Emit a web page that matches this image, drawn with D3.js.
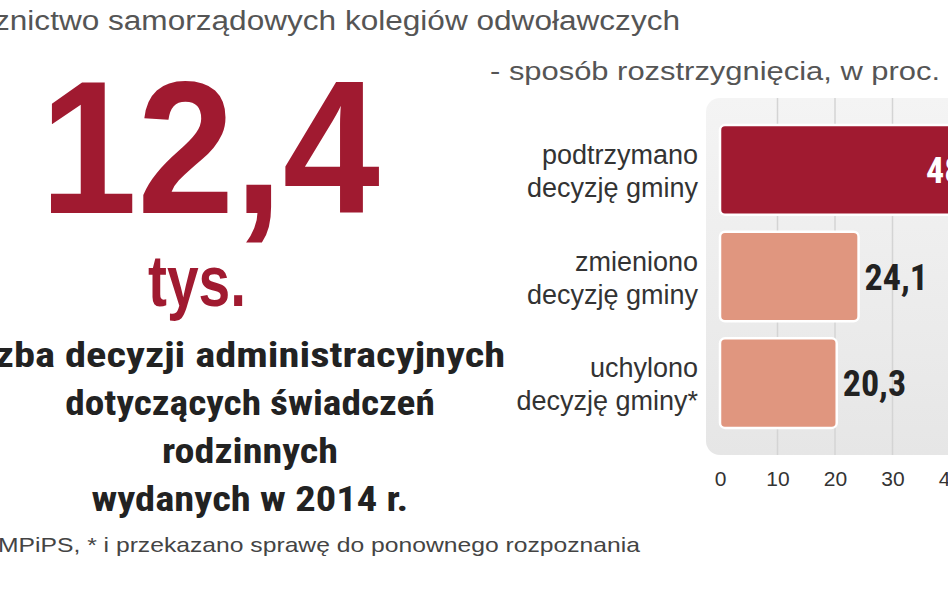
<!DOCTYPE html>
<html><head><meta charset="utf-8">
<script src="https://cdn.jsdelivr.net/npm/d3@7"></script>
<style>body{margin:0;background:#fff}svg{display:block}</style>
</head><body>
<svg id="svg" width="948" height="593"></svg>
<script>
const categories = [["podtrzymano", "decyzję gminy"], ["zmieniono", "decyzję gminy"], ["uchylono", "decyzję gminy*"]];
const values = [48.6, 24.1, 20.3];
const ticks = [0, 10, 20, 30, 40];
const descLines = ["zba decyzji administracyjnych", "dotyczących świadczeń", "rodzinnych", "wydanych w 2014 r."];

const svg = d3.select("#svg");
const red = "#a01a30", salmon = "#e0967f";
const font = "'Liberation Sans', Arial, sans-serif";
const cond = "'Roboto Condensed', 'Liberation Sans Narrow', sans-serif";

svg.append("text").attr("x", -6).attr("y", 30).attr("font-family", font)
  .attr("font-size", 27).attr("fill", "#555")
  .attr("textLength", 686).attr("lengthAdjust", "spacingAndGlyphs")
  .text("znictwo samorządowych kolegiów odwoławczych");
svg.append("text").attr("x", 490).attr("y", 80).attr("font-family", font)
  .attr("font-size", 26).attr("fill", "#555")
  .attr("textLength", 450).attr("lengthAdjust", "spacingAndGlyphs")
  .text("- sposób rozstrzygnięcia, w proc.");

svg.append("text").attr("x", 210).attr("y", 213).attr("text-anchor", "middle")
  .attr("font-family", font).attr("font-weight", "bold").attr("font-size", 190).attr("fill", red)
  .attr("textLength", 340).attr("lengthAdjust", "spacingAndGlyphs").text("12,4");
svg.append("text").attr("x", 197).attr("y", 306).attr("text-anchor", "middle")
  .attr("font-family", font).attr("font-weight", "bold").attr("font-size", 72).attr("fill", red)
  .attr("textLength", 98).attr("lengthAdjust", "spacingAndGlyphs").text("tys.");

svg.selectAll("text.desc").data(descLines).join("text").attr("class", "desc")
  .attr("x", 250).attr("y", (d, i) => 367 + i * 48).attr("text-anchor", "middle")
  .attr("font-family", cond).attr("font-weight", "bold").attr("font-size", 35)
  .attr("fill", "#222").attr("textLength", d => d.length * 17.6)
  .attr("lengthAdjust", "spacingAndGlyphs").text(d => d);
svg.append("text").attr("x", -2).attr("y", 552).attr("font-family", font)
  .attr("font-size", 21).attr("fill", "#444")
  .attr("textLength", 642).attr("lengthAdjust", "spacingAndGlyphs")
  .text("MPiPS, * i przekazano sprawę do ponownego rozpoznania");

// panel
const grad = svg.append("defs").append("linearGradient").attr("id", "g")
  .attr("x1", 0).attr("x2", 0).attr("y1", 0).attr("y2", 1);
grad.append("stop").attr("offset", 0).attr("stop-color", "#f4f4f4");
grad.append("stop").attr("offset", 1).attr("stop-color", "#e6e6e6");
svg.append("rect").attr("x", 706).attr("y", 98).attr("width", 260).attr("height", 357)
  .attr("rx", 14).attr("fill", "url(#g)");

const x = d3.scaleLinear().domain([0, 40]).range([720, 950]);
const y = d3.scaleBand().domain(d3.range(values.length)).range([108, 445]).padding(0.16);

svg.selectAll("line.grid").data(ticks.slice(1)).join("line").attr("class", "grid")
  .attr("x1", d => x(d)).attr("x2", d => x(d)).attr("y1", 98).attr("y2", 455)
  .attr("stroke", "#d4d4d4").attr("stroke-width", 1.5);

const ax = svg.append("g").attr("transform", "translate(0,468)")
  .call(d3.axisBottom(x).tickValues(ticks).tickSize(0).tickFormat(d3.format("d")));
ax.select(".domain").remove();
ax.selectAll("text").attr("font-family", font).attr("font-size", 21).attr("fill", "#333");

svg.selectAll("rect.bar").data(values).join("rect").attr("class", "bar")
  .attr("x", x(0)).attr("y", (d, i) => y(i)).attr("width", d => x(d) - x(0))
  .attr("height", y.bandwidth()).attr("rx", 5)
  .attr("fill", (d, i) => i === 0 ? red : salmon).attr("stroke", "#fff").attr("stroke-width", 2.5);

svg.selectAll("text.val").data(values).join("text").attr("class", "val")
  .attr("x", (d, i) => i === 0 ? x(d) - 10 : x(d) + 6)
  .attr("y", (d, i) => y(i) + y.bandwidth() / 2 + 13)
  .attr("text-anchor", (d, i) => i === 0 ? "end" : "start")
  .attr("font-family", cond).attr("font-weight", "bold").attr("font-size", 36)
  .attr("fill", (d, i) => i === 0 ? "#fff" : "#222")
  .text(d => d3.format(".1f")(d).replace(".", ","));

categories.forEach((c, i) => {
  c.forEach((line, j) => svg.append("text").attr("x", 698)
    .attr("y", y(i) + y.bandwidth() / 2 - 6 + j * 33).attr("text-anchor", "end")
    .attr("font-family", font).attr("font-size", 27).attr("fill", "#333").text(line));
});
</script>
</body></html>
